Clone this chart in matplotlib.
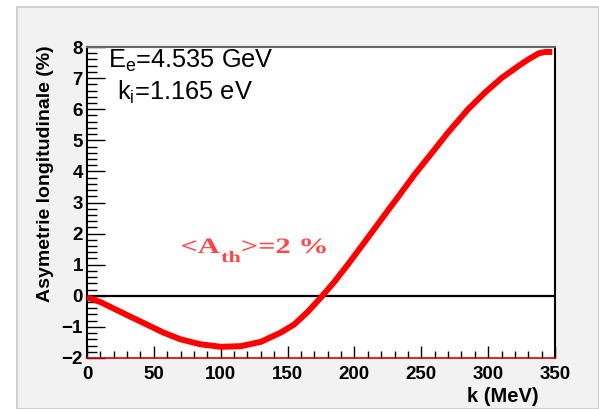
#!/usr/bin/env python3

import matplotlib
matplotlib.use("Agg")
import matplotlib.pyplot as plt
from matplotlib.patches import Rectangle, PathPatch
from matplotlib.ticker import MultipleLocator, FuncFormatter
from matplotlib.textpath import TextPath
from matplotlib.font_manager import FontProperties
from matplotlib.transforms import Affine2D, IdentityTransform

# photon energy k (MeV) and longitudinal asymmetry (%)
k_mev = [0, 10, 20, 30, 45, 57, 70, 85, 100, 115, 130, 145, 155, 165, 175,
         185, 195, 208, 220, 233, 245, 258, 270, 285, 298, 310, 323, 330,
         338, 343, 348]
asym = [-0.05, -0.2, -0.41, -0.62, -0.93, -1.18, -1.4, -1.56, -1.64, -1.62,
        -1.48, -1.18, -0.92, -0.52, -0.05, 0.45, 1.0, 1.75, 2.45, 3.2, 3.9,
        4.6, 5.25, 6.0, 6.55, 7.0, 7.4, 7.6, 7.8, 7.84, 7.84]

X_RANGE = (0, 350)
Y_RANGE = (-2, 8)

plt.rcParams["font.family"] = ["Liberation Sans", "DejaVu Sans"]
plt.rcParams["mathtext.fontset"] = "custom"
plt.rcParams["mathtext.rm"] = "Liberation Sans"

W, H = 599, 409
fig = plt.figure(figsize=(W / 100, H / 100), dpi=100)
fig.patch.set_facecolor("white")

# ROOT canvas background
fig.patches.append(Rectangle((17 / W, 0), 1 - 17 / W, 1 - 7 / H,
                             transform=fig.transFigure, facecolor="#f2f2f2",
                             edgecolor="#c8c8c8", linewidth=1.2, zorder=-5))

ax = fig.add_axes([87 / W, 1 - 358 / H, (555 - 87) / W, (358 - 47) / H])
ax.set_facecolor("white")

ax.plot(k_mev, asym, color="#ff0000", linewidth=4.3, solid_capstyle="butt",
        solid_joinstyle="round", zorder=3)
ax.axhline(0, color="black", linewidth=1.6, zorder=2)

ax.set_xlim(*X_RANGE)
ax.set_ylim(*Y_RANGE)

ax.xaxis.set_major_locator(MultipleLocator(50))
ax.xaxis.set_minor_locator(MultipleLocator(10))
ax.yaxis.set_major_locator(MultipleLocator(1))
ax.yaxis.set_minor_locator(MultipleLocator(0.2))
ax.tick_params(which="both", direction="in", color="black", width=1.0)
ax.tick_params(axis="x", which="major", length=9, pad=6)
ax.tick_params(axis="x", which="minor", length=5)
ax.tick_params(axis="y", which="major", length=13, pad=3)
ax.tick_params(axis="y", which="minor", length=7)
ax.yaxis.set_major_formatter(
    FuncFormatter(lambda v, p: f"{v:.0f}".replace("-", "\u2212")))
for lab in ax.get_xticklabels() + ax.get_yticklabels():
    lab.set_fontsize(13.5)
    lab.set_fontweight("bold")

ax.spines["left"].set_color("black")
ax.spines["left"].set_linewidth(1.5)
ax.spines["bottom"].set_color("#d00000")
ax.spines["bottom"].set_linewidth(1.2)
ax.spines["right"].set_color("black")
ax.spines["right"].set_linewidth(1.5)
ax.spines["top"].set_color("#666666")
ax.spines["top"].set_linewidth(1.5)

fig.text(46 / W, 1 - 45 / H, "Asymetrie longitudinale (%)", rotation=90,
         ha="center", va="top", fontsize=14, fontweight="bold")
fig.text(539 / W, 1 - 397 / H, "k (MeV)", ha="right", va="center",
         fontsize=14.5, fontweight="bold")

fig.text(108 / W, 1 - 68 / H, r"E$_{\mathrm{e}}$=4.535 GeV", ha="left",
         va="baseline", fontsize=18.3)
fig.text(117 / W, 1 - 100 / H, r"k$_{\mathrm{i}}$=1.165 eV", ha="left",
         va="baseline", fontsize=18.3)

# red annotation: wide bold serif, drawn as paths so it can be stretched
fp = FontProperties(family="Liberation Serif", weight="bold")
SX = 1.38
x_cur = 182.0
pieces = [("<A", 22, 253), ("th", 16, 262), (">=2 %", 22, 253)]
for txt, size, base in pieces:
    tp = TextPath((0, 0), txt, size=size, prop=fp)
    ext = tp.get_extents()
    tr = Affine2D().translate(-ext.x0, 0).scale(SX, 1).translate(x_cur, H - base)
    fig.add_artist(PathPatch(tr.transform_path(tp), transform=IdentityTransform(),
                             facecolor="#ff4545", edgecolor="none"))
    x_cur += (ext.x1 - ext.x0) * SX + 2

fig.savefig("out.png", dpi=100, facecolor=fig.get_facecolor())
